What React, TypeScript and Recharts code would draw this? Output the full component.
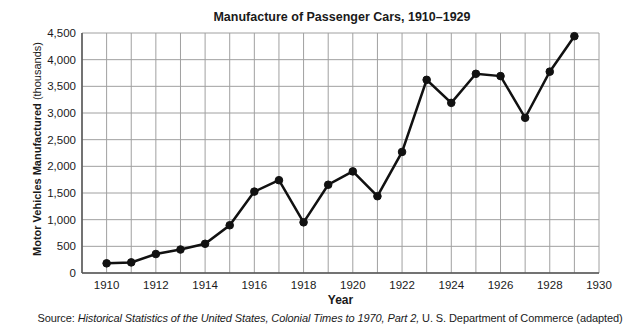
import { LineChart, Line, XAxis, YAxis, CartesianGrid } from 'recharts';

const years = [1910, 1911, 1912, 1913, 1914, 1915, 1916, 1917, 1918, 1919, 1920, 1921, 1922, 1923, 1924, 1925, 1926, 1927, 1928, 1929];
const cars = [181, 199, 356, 440, 548, 895, 1526, 1740, 950, 1655, 1905, 1440, 2270, 3622, 3190, 3735, 3692, 2910, 3775, 4440];
const yearTicks = [1910, 1911, 1912, 1913, 1914, 1915, 1916, 1917, 1918, 1919, 1920, 1921, 1922, 1923, 1924, 1925, 1926, 1927, 1928, 1929, 1930];
const valueTicks = [0, 500, 1000, 1500, 2000, 2500, 3000, 3500, 4000, 4500];

const data = years.map((year, i) => ({ year, cars: cars[i] }));

const font = '"Liberation Sans", Arial, sans-serif';

const App = () => {
  return (
    <div style={{ position: 'absolute', left: 0, top: 0, width: 640, height: 334, background: '#fff', fontFamily: font, color: '#1a1a1a' }}>
      <div style={{ position: 'absolute', left: 0, width: 640, top: 9, textAlign: 'center', paddingLeft: 44, boxSizing: 'border-box', fontSize: 12.5, fontWeight: 700, lineHeight: '16px' }}>
        Manufacture of Passenger Cars, 1910–1929
      </div>

      <LineChart width={640} height={334} data={data} margin={{ top: 33, right: 41, bottom: 31, left: 0 }}>
        <CartesianGrid stroke="#a0a0a0" strokeWidth={1} />
        <XAxis
          dataKey="year"
          type="number"
          domain={[1909, 1930]}
          ticks={yearTicks}
          interval={0}
          tickFormatter={(v: number) => (v % 2 === 0 ? String(v) : '')}
          tickLine={false}
          tickSize={0}
          tickMargin={8}
          height={30}
          axisLine={{ stroke: '#555', strokeWidth: 1.5 }}
          tick={{ fill: '#1a1a1a', fontSize: 11.5, fontFamily: font }}
        />
        <XAxis xAxisId="top" orientation="top" type="number" domain={[1909, 1930]} height={0} tick={false} tickLine={false} axisLine={{ stroke: '#555', strokeWidth: 1.5 }} />
        <YAxis
          type="number"
          domain={[0, 4500]}
          ticks={valueTicks}
          interval={0}
          tickFormatter={(v: number) => v.toLocaleString('en-US')}
          tickLine={false}
          tickSize={0}
          tickMargin={6}
          width={82}
          axisLine={{ stroke: '#555', strokeWidth: 1.5 }}
          tick={{ fill: '#1a1a1a', fontSize: 11.5, fontFamily: font }}
        />
        <YAxis yAxisId="right" orientation="right" type="number" domain={[0, 4500]} width={0} tick={false} tickLine={false} axisLine={{ stroke: '#555', strokeWidth: 1.5 }} />
        <Line
          type="linear"
          dataKey="cars"
          stroke="#111"
          strokeWidth={2.5}
          dot={{ r: 3.8, fill: '#111', stroke: '#111', strokeWidth: 1 }}
          isAnimationActive={false}
        />
      </LineChart>

      <div style={{ position: 'absolute', left: 37, top: 149, transform: 'translate(-50%, -50%) rotate(-90deg)', whiteSpace: 'nowrap', fontSize: 11, lineHeight: '13px' }}>
        <span style={{ fontWeight: 700 }}>Motor Vehicles Manufactured</span> (thousands)
      </div>

      <div style={{ position: 'absolute', left: 82, width: 517, top: 293, textAlign: 'center', fontSize: 12, fontWeight: 700, lineHeight: '14px' }}>
        Year
      </div>

      <div style={{ position: 'absolute', left: 0, width: 640, top: 311, textAlign: 'center', paddingLeft: 20, boxSizing: 'border-box', whiteSpace: 'nowrap', fontSize: 11, lineHeight: '14px', letterSpacing: -0.1 }}>
        Source: <i>Historical Statistics of the United States, Colonial Times to 1970, Part 2,</i> U. S. Department of Commerce (adapted)
      </div>
    </div>
  );
};

export default App;
